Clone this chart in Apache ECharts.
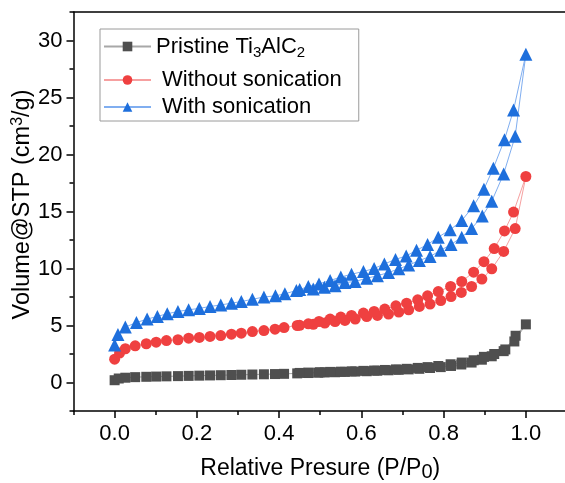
<!DOCTYPE html>
<html><head><meta charset="utf-8">
<script src="https://cdn.jsdelivr.net/npm/echarts@6/dist/echarts.min.js"></script>
<style>html,body{margin:0;padding:0;background:#fff}#c{width:565px;height:483px}</style>
</head><body><div id="c"></div><script>
// ---- tick values ----
const xMajor = [0, 0.2, 0.4, 0.6, 0.8, 1.0];
const xMinor = [-0.1, 0.1, 0.3, 0.5, 0.7, 0.9, 1.1];
const yMajor = [0, 5, 10, 15, 20, 25, 30];
const yMinor = [-2.5, 2.5, 7.5, 12.5, 17.5, 22.5, 27.5, 32.5];

const seriesNames = ['Pristine Ti3AlC2', 'Without sonication', 'With sonication'];

// ---- Pristine Ti3AlC2 ----
const pristineAdsX = [0.0, 0.01, 0.026, 0.05, 0.077, 0.101, 0.126, 0.154, 0.18, 0.206, 0.232, 0.258, 0.284, 0.308, 0.335, 0.363, 0.39, 0.412, 0.444, 0.471, 0.495, 0.511, 0.536, 0.56, 0.585, 0.613, 0.639, 0.666, 0.691, 0.715, 0.741, 0.767, 0.793, 0.818, 0.843, 0.868, 0.893, 0.917, 0.946, 0.972, 1.0];
const pristineAdsY = [0.2, 0.35, 0.42, 0.47, 0.5, 0.52, 0.54, 0.56, 0.58, 0.6, 0.62, 0.64, 0.66, 0.68, 0.7, 0.72, 0.74, 0.76, 0.8, 0.83, 0.86, 0.88, 0.9, 0.93, 0.96, 0.99, 1.03, 1.07, 1.11, 1.15, 1.2, 1.27, 1.35, 1.45, 1.58, 1.75, 2.0, 2.3, 2.75, 3.6, 5.1];
const pristineDesX = [0.975, 0.95, 0.923, 0.898, 0.873, 0.844, 0.817, 0.787, 0.761, 0.737, 0.71, 0.684, 0.657, 0.631, 0.605, 0.576, 0.55, 0.524, 0.499, 0.471, 0.45];
const pristineDesY = [4.1, 2.9, 2.5, 2.25, 1.95, 1.75, 1.6, 1.45, 1.35, 1.28, 1.2, 1.15, 1.1, 1.05, 1.02, 0.98, 0.95, 0.93, 0.9, 0.87, 0.84];

// ---- Without sonication ----
const withoutAdsX = [0.0, 0.012, 0.026, 0.05, 0.077, 0.101, 0.126, 0.154, 0.18, 0.206, 0.232, 0.258, 0.284, 0.308, 0.335, 0.363, 0.39, 0.412, 0.444, 0.483, 0.511, 0.536, 0.56, 0.585, 0.613, 0.639, 0.666, 0.691, 0.715, 0.741, 0.767, 0.793, 0.818, 0.843, 0.868, 0.893, 0.917, 0.946, 0.974, 1.0];
const withoutAdsY = [2.05, 2.58, 2.96, 3.22, 3.4, 3.54, 3.68, 3.75, 3.89, 3.95, 4.04, 4.12, 4.24, 4.33, 4.47, 4.56, 4.68, 4.82, 5.0, 5.1, 5.21, 5.35, 5.44, 5.56, 5.79, 5.88, 6.0, 6.18, 6.38, 6.67, 6.88, 7.19, 7.54, 7.9, 8.42, 9.07, 9.97, 11.5, 13.5, 18.07];
const withoutDesX = [0.97, 0.948, 0.923, 0.898, 0.873, 0.844, 0.817, 0.787, 0.761, 0.737, 0.71, 0.684, 0.657, 0.631, 0.605, 0.576, 0.55, 0.524, 0.497, 0.471, 0.45];
const withoutDesY = [14.95, 13.3, 11.75, 10.6, 9.68, 8.86, 8.42, 7.98, 7.6, 7.25, 6.96, 6.73, 6.44, 6.23, 6.09, 5.88, 5.74, 5.56, 5.35, 5.15, 5.02];

// ---- With sonication ----
const withAdsX = [0.0, 0.008, 0.026, 0.053, 0.079, 0.104, 0.128, 0.154, 0.18, 0.206, 0.232, 0.258, 0.284, 0.308, 0.335, 0.363, 0.391, 0.414, 0.442, 0.483, 0.51, 0.536, 0.56, 0.585, 0.613, 0.639, 0.666, 0.691, 0.715, 0.741, 0.767, 0.793, 0.818, 0.844, 0.868, 0.894, 0.917, 0.946, 0.974, 1.0];
const withAdsY = [3.3, 4.2, 4.86, 5.26, 5.56, 5.8, 6.03, 6.23, 6.38, 6.5, 6.67, 6.8, 6.96, 7.1, 7.3, 7.5, 7.6, 7.78, 8.07, 8.2, 8.35, 8.48, 8.77, 8.86, 9.15, 9.36, 9.65, 9.97, 10.3, 10.7, 11.05, 11.6, 12.1, 12.75, 13.5, 14.6, 15.9, 18.3, 21.6, 28.8];
const withDesX = [0.97, 0.948, 0.921, 0.898, 0.873, 0.844, 0.816, 0.787, 0.761, 0.734, 0.709, 0.683, 0.656, 0.631, 0.605, 0.576, 0.55, 0.524, 0.497, 0.471, 0.45];
const withDesY = [23.9, 21.3, 18.8, 16.96, 15.5, 14.2, 13.4, 12.75, 12.1, 11.6, 11.1, 10.8, 10.4, 10.0, 9.74, 9.5, 9.25, 8.95, 8.65, 8.42, 8.15];

function pairs(ax, ay, dx, dy) {
  const out = [];
  ax.forEach((x, i) => out.push([x, ay[i]]));
  dx.forEach((x, i) => out.push([x, dy[i]]));
  return out;
}

const FONT = '"Liberation Sans", Arial, sans-serif';
const chart = echarts.init(document.getElementById('c'), null, {renderer: 'canvas'});

const axisLineStyle = {color: '#000', width: 1.5};

const option = {
  animation: false,
  backgroundColor: '#fff',
  grid: {left: 73.5, top: 12, right: -2, bottom: 72, containLabel: false, outerBoundsMode: 'none'},
  legend: {
    orient: 'vertical', left: 100, top: 29,
    padding: [0, 17, 3, 3],
    itemGap: 5,
    itemWidth: 47, itemHeight: 12,
    borderColor: '#9a9a9a', borderWidth: 1,
    data: seriesNames,
    formatter: function (name) {
      if (name === 'Pristine Ti3AlC2') return '{t|Pristine Ti}{s|3}{t|AlC}{s|2}';
      return '{p|' + name + '}';
    },
    textStyle: {
      fontFamily: FONT, fontSize: 22, color: '#000',
      rich: {
        t: {fontFamily: FONT, fontSize: 22, color: '#000', lineHeight: 26},
        s: {fontFamily: FONT, fontSize: 15, color: '#000', lineHeight: 15, padding: [16, 0, 4, 0]},
        p: {fontFamily: FONT, fontSize: 22, color: '#000', lineHeight: 16, padding: [0, 0, 0, 6]}
      }
    }
  },
  xAxis: [
    {
      type: 'value', min: -0.1, max: 1.1, position: 'bottom',
      name: '{a|Relative Presure (P/P}{b|0}{a|)}',
      nameLocation: 'middle', nameGap: 45, nameMoveOverlap: false,
      nameTextStyle: {
        rich: {
          a: {fontFamily: FONT, fontSize: 23, color: '#000', lineHeight: 26},
          b: {fontFamily: FONT, fontSize: 20, color: '#000', verticalAlign: 'bottom', lineHeight: 20, padding: [7, 0, 0, 0]}
        }
      },
      axisLine: {show: true, onZero: false, lineStyle: axisLineStyle},
      axisTick: {show: true, inside: false, length: 7, lineStyle: {color: '#000', width: 1.5}, customValues: xMajor},
      axisLabel: {customValues: xMajor, margin: 12, fontFamily: FONT, fontSize: 22, color: '#000',
        formatter: v => v.toFixed(1)},
      splitLine: {show: false}
    },
    {
      type: 'value', min: -0.1, max: 1.1, position: 'bottom',
      axisLine: {show: false, onZero: false},
      axisTick: {show: true, length: 4, lineStyle: {color: '#000', width: 1.5}, customValues: xMinor},
      axisLabel: {show: false},
      splitLine: {show: false}
    },
    {
      type: 'value', min: -0.1, max: 1.1, position: 'top',
      axisLine: {show: true, onZero: false, lineStyle: axisLineStyle},
      axisTick: {show: false}, axisLabel: {show: false}, splitLine: {show: false}
    }
  ],
  yAxis: [
    {
      type: 'value', min: -2.5, max: 32.5, position: 'left',
      name: '{a|Volume@STP (cm}{b|3}{a|/g)}',
      nameLocation: 'middle', nameGap: 38, nameMoveOverlap: false,
      nameTextStyle: {
        padding: [0, 0, 0, 14],
        rich: {
          a: {fontFamily: FONT, fontSize: 23.5, color: '#000', lineHeight: 26},
          b: {fontFamily: FONT, fontSize: 16, color: '#000', verticalAlign: 'top', lineHeight: 16}
        }
      },
      axisLine: {show: true, onZero: false, lineStyle: axisLineStyle},
      axisTick: {show: true, inside: false, length: 7, lineStyle: {color: '#000', width: 1.5}, customValues: yMajor},
      axisLabel: {customValues: yMajor, margin: 11, fontFamily: FONT, fontSize: 22, color: '#000'},
      splitLine: {show: false}
    },
    {
      type: 'value', min: -2.5, max: 32.5, position: 'left',
      axisLine: {show: false, onZero: false},
      axisTick: {show: true, length: 4, lineStyle: {color: '#000', width: 1.5}, customValues: yMinor},
      axisLabel: {show: false},
      splitLine: {show: false}
    }
  ],
  series: [
    {
      name: seriesNames[0], type: 'line',
      data: pairs(pristineAdsX, pristineAdsY, pristineDesX, pristineDesY),
      symbol: 'rect', symbolSize: 10, showAllSymbol: true,
      itemStyle: {color: '#4f4f4f'},
      lineStyle: {color: '#a8a8a8', width: 1}
    },
    {
      name: seriesNames[1], type: 'line',
      data: pairs(withoutAdsX, withoutAdsY, withoutDesX, withoutDesY),
      symbol: 'circle', symbolSize: 11, showAllSymbol: true,
      itemStyle: {color: '#ef4040'},
      lineStyle: {color: '#f6a0a0', width: 1}
    },
    {
      name: seriesNames[2], type: 'line',
      data: pairs(withAdsX, withAdsY, withDesX, withDesY),
      symbol: 'triangle', symbolSize: 13, showAllSymbol: true,
      itemStyle: {color: '#1e6fdc'},
      lineStyle: {color: '#80aef0', width: 1}
    }
  ]
};
chart.setOption(option);
</script></body></html>
